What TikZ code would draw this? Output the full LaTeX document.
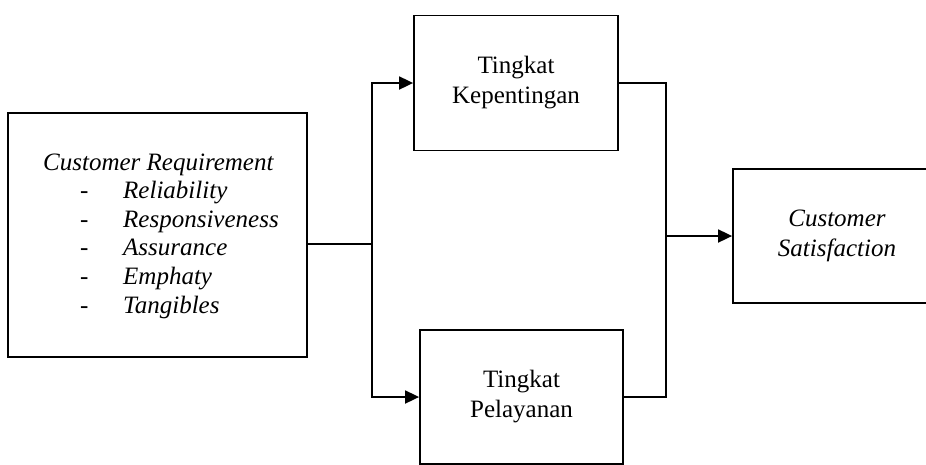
\documentclass[tikz,border=0pt]{standalone}
\usepackage{fontspec}
\setmainfont{Liberation Serif}
\usetikzlibrary{arrows.meta}
\begin{document}
\begin{tikzpicture}[x=1pt,y=-1pt,
  box/.style={draw, line width=1.8pt, rectangle, inner sep=0pt, align=center,
              font=\fontsize{25}{30}\selectfont},
  txt/.style={inner sep=0pt, anchor=base west, font=\fontsize{25}{29}\selectfont\itshape},
  conn/.style={line width=1.8pt},
  arr/.style={conn, -{Triangle[length=14pt,width=13pt]}}]
\useasboundingbox (0,0) rectangle (926,464);
\clip (0,0) rectangle (926,464);
% boxes
\node[box, minimum width=299pt, minimum height=244pt] (req) at (157.5,235) {};
\node[txt] (reqtitle) at (43,170) {Customer Requirement};
\foreach \i/\t in {1/Reliability,2/Responsiveness,3/Assurance,4/Emphaty,5/Tangibles}{
  \node[txt] (dash\i) at (80,{170+28.6*\i}) {-};
  \node[txt] (item\i) at (123,{170+28.6*\i}) {\t};
}
\node[box, minimum width=204pt, minimum height=135pt] (top) at (516,83) {Tingkat\\Kepentingan};
\node[box, minimum width=203pt, minimum height=134pt] (bot) at (521.5,397) {Tingkat\\Pelayanan};
\node[box, minimum width=208pt, minimum height=134pt, font=\fontsize{25}{30}\selectfont\itshape] (sat) at (837,236) {Customer\\Satisfaction};
% connectors
\coordinate (split) at (372,244);
\coordinate (merge) at (666,236);
\draw[conn] (req.east |- split) -- (split);
\draw[arr] (split) |- (top.west);
\draw[arr] (split) |- (bot.west);
\draw[conn] (top.east) -| (merge);
\draw[conn] (bot.east) -| (merge);
\draw[arr] (merge) -- (sat.west);
\end{tikzpicture}
\end{document}
